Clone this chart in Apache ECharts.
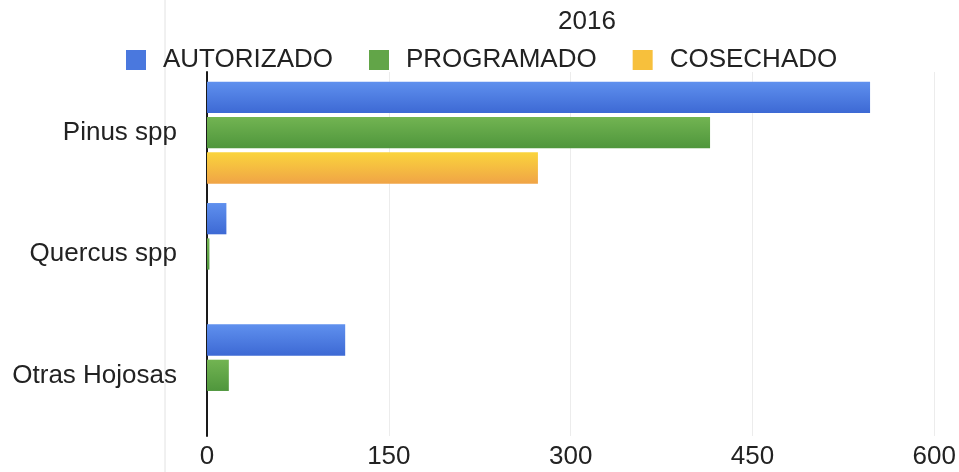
<!DOCTYPE html>
<html>
<head>
<meta charset="utf-8">
<script src="https://cdn.jsdelivr.net/npm/echarts@6/dist/echarts.min.js"></script>
<style>html,body{margin:0;padding:0;background:#fff;}#c{width:959px;height:472px;}</style>
</head>
<body>
<div id="c"></div>
<script>
const categories = ['Pinus spp', 'Quercus spp', 'Otras Hojosas'];
const autorizado = [547, 16, 114];
const programado = [415, 2, 18];
const cosechado = [273, 0, 0];
const seriesNames = ['AUTORIZADO', 'PROGRAMADO', 'COSECHADO'];
const xTicks = [0, 150, 300, 450, 600];

function grad(top, bottom) {
  return new echarts.graphic.LinearGradient(0, 0, 0, 1, [
    { offset: 0, color: top }, { offset: 1, color: bottom }
  ]);
}
const colors = [grad('#5f90ee', '#3d69d4'), grad('#72b452', '#4f963c'), grad('#fad43c', '#f0a446')];
const legendColors = ['#4a78de', '#62a548', '#f7c03c'];
const font = 'Liberation Sans, Arial, sans-serif';
const fs = 26;

const chart = echarts.init(document.getElementById('c'), null, { renderer: 'canvas' });
const data = [autorizado, programado, cosechado];
chart.setOption({
  animation: false,
  backgroundColor: '#fff',
  title: {
    text: '2016', left: 553, top: 4,
    textStyle: { fontFamily: font, fontSize: fs, fontWeight: 'normal', color: '#222' }
  },
  legend: {
    data: seriesNames.map((n, i) => ({ name: n, itemStyle: { color: legendColors[i] } })),
    left: 121, top: 42, itemWidth: 20, itemHeight: 20, itemGap: 36,
    icon: 'rect',
    textStyle: { fontFamily: font, fontSize: fs, color: '#222', padding: [0, 0, 0, 12] }
  },
  grid: { left: 207, right: 21, top: 72, bottom: 36, containLabel: false },
  xAxis: {
    type: 'value', min: 0, max: 600, interval: 150, position: 'bottom',
    axisLine: { show: false }, axisTick: { show: false },
    axisLabel: { fontFamily: font, fontSize: fs, color: '#222', margin: 8,
      formatter: v => xTicks.includes(v) ? String(v) : '' },
    splitLine: { show: true, lineStyle: { color: '#ececec', width: 1 } }
  },
  yAxis: {
    type: 'category', data: categories, inverse: true,
    axisLine: { show: true, lineStyle: { color: '#1a1a1a', width: 2 } },
    axisTick: { show: false },
    axisLabel: { fontFamily: font, fontSize: fs, color: '#222', margin: 30 }
  },
  series: seriesNames.map((n, i) => ({
    name: n, type: 'bar', data: data[i],
    barGap: '13%', barCategoryGap: '16%',
    itemStyle: { color: colors[i] }
  })),
  graphic: [{
    type: 'line', shape: { x1: 165, y1: 0, x2: 165, y2: 472 },
    style: { stroke: '#e2e2e2', lineWidth: 1 }, silent: true
  }]
});
</script>
</body>
</html>
